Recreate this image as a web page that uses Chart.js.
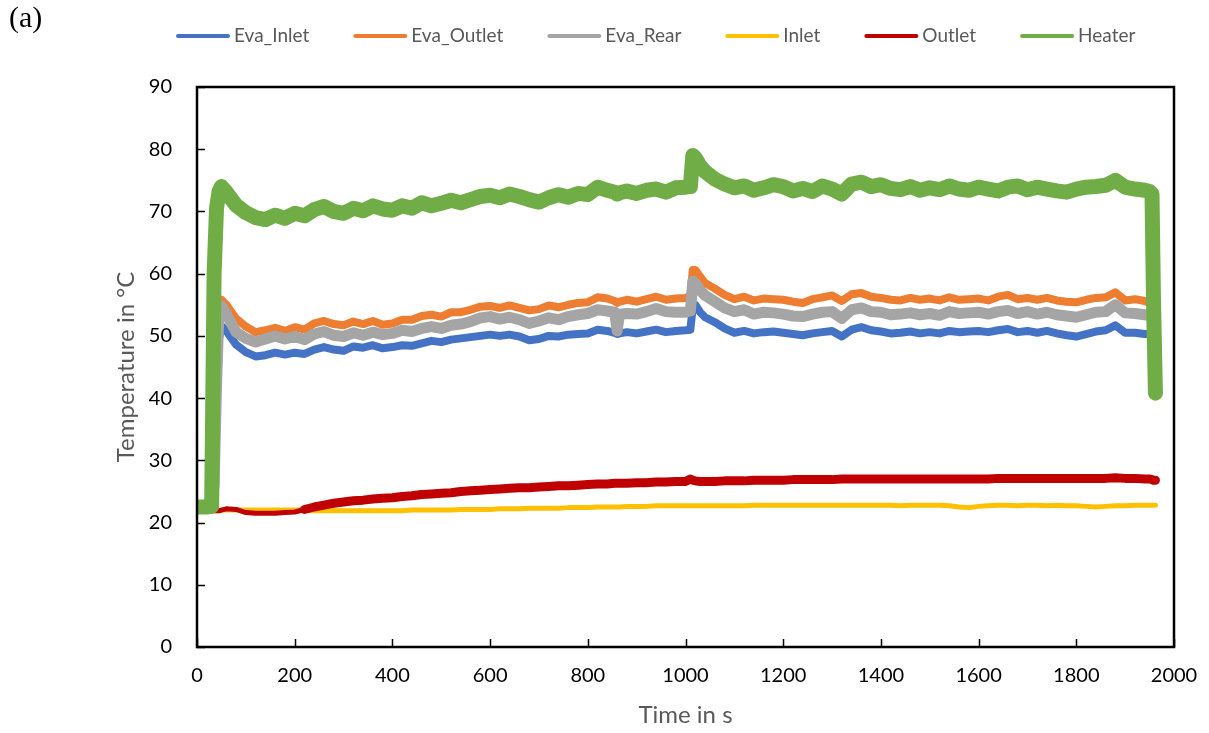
<!DOCTYPE html>
<html>
<head>
<meta charset="utf-8">
<script src="https://cdn.jsdelivr.net/npm/chart.js@4.4.1/dist/chart.umd.min.js"></script>
<style>
  body { margin: 0; background: #fff; }
  #wrap { position: relative; width: 1209px; height: 733px; }
  #tag { position: absolute; left: 9px; top: 0px; font: 30px "Liberation Serif", serif; color: #000; }
</style>
</head>
<body>
<div id="wrap">
  <canvas id="chartTemp" width="1209" height="733"></canvas>
  <div id="tag">(a)</div>
</div>
<script>
// time in s
const times = [
  0, 20, 30, 35, 40, 45, 50, 60,
  80, 100, 120, 140, 160, 180, 200, 220, 240, 260, 280, 300,
  320, 340, 360, 380, 400, 420, 440, 460, 480, 500, 520, 540,
  560, 580, 600, 620, 640, 660, 680, 700, 720, 740, 760, 780,
  800, 820, 840, 855, 860, 865, 880, 900, 920, 940, 960, 980, 1000,
  1010, 1015, 1020, 1030,
  1040, 1060, 1080, 1100, 1120, 1140, 1160, 1180, 1200, 1220, 1240, 1260,
  1280, 1300, 1320, 1340, 1360, 1380, 1400, 1420, 1440, 1460, 1480, 1500,
  1520, 1540, 1560, 1580, 1600, 1620, 1640, 1660, 1680, 1700, 1720, 1740,
  1760, 1780, 1800, 1820, 1840, 1860, 1880, 1900, 1920, 1940,
  1950, 1955, 1958, 1962
];

const evaInlet = [
  22.5, 22.5, 22.5, 25.0, 40.0, 49.5, 51.6, 50.8,
  48.6, 47.4, 46.7, 46.9, 47.3, 47.0, 47.3, 47.1, 47.8, 48.2, 47.8, 47.6,
  48.3, 48.1, 48.5, 48.0, 48.2, 48.5, 48.4, 48.8, 49.2, 49.0, 49.4, 49.6,
  49.8, 50.0, 50.2, 50.0, 50.2, 49.9, 49.3, 49.5, 50.0, 49.9, 50.2, 50.3,
  50.4, 51.0, 50.8, 50.5, 50.3, 50.4, 50.6, 50.4, 50.7, 51.0, 50.6, 50.8, 50.9,
  51.0, 54.8, 55.0, 53.8,
  53.0, 52.2, 51.2, 50.5, 50.8, 50.4, 50.6, 50.7, 50.5, 50.3, 50.1, 50.4,
  50.6, 50.8, 49.9, 51.0, 51.4, 50.9, 50.7, 50.4, 50.5, 50.7, 50.4, 50.6,
  50.4, 50.8, 50.6, 50.7, 50.8, 50.6, 50.9, 51.1, 50.6, 50.8, 50.5, 50.8,
  50.4, 50.1, 49.9, 50.3, 50.7, 50.9, 51.7, 50.5, 50.5, 50.3,
  50.3, 50.2, 47.0, 44.0
];

const evaOutlet = [
  22.5, 22.5, 22.5, 24.0, 38.0, 51.5, 55.8, 55.0,
  52.8, 51.5, 50.6, 50.9, 51.3, 50.8, 51.4, 51.0, 52.0, 52.4, 51.9, 51.7,
  52.3, 51.9, 52.4, 51.8, 52.0, 52.6, 52.6, 53.2, 53.4, 53.1, 53.8, 53.8,
  54.2, 54.7, 54.8, 54.5, 54.9, 54.5, 54.1, 54.3, 54.9, 54.6, 55.0, 55.3,
  55.4, 56.2, 56.0, 55.6, 55.3, 55.5, 55.8, 55.5, 55.9, 56.3, 55.8, 56.0, 56.1,
  56.4, 60.6, 60.6, 59.5,
  58.5, 57.6, 56.6, 55.9, 56.3, 55.7, 56.0, 55.9, 55.8, 55.5, 55.3, 55.9,
  56.2, 56.5, 55.6, 56.7, 56.9, 56.3, 56.1, 55.8, 55.7, 56.1, 55.8, 56.0,
  55.7, 56.2, 55.8, 55.9, 56.0, 55.7, 56.3, 56.6, 55.9, 56.1, 55.8, 56.1,
  55.7, 55.5, 55.4, 55.8, 56.1, 56.2, 57.0, 55.7, 55.9, 55.6,
  55.3, 55.1, 51.0, 46.4
];

const evaRear = [
  22.5, 22.5, 22.5, 26.0, 42.0, 54.0, 54.8, 53.5,
  50.6, 49.6, 49.0, 49.5, 50.0, 49.5, 49.9, 49.4, 50.3, 50.7, 50.1, 49.9,
  50.5, 50.1, 50.6, 50.2, 50.4, 50.9, 50.7, 51.2, 51.5, 51.2, 51.7, 51.9,
  52.3, 52.9, 53.1, 52.7, 53.0, 52.6, 52.0, 52.4, 52.9, 52.6, 53.1, 53.4,
  53.6, 54.2, 54.0, 53.8, 50.8, 53.5, 53.6, 53.5, 53.9, 54.4, 53.9, 53.8, 53.8,
  54.0, 58.8, 58.5, 57.3,
  56.5, 55.5, 54.5, 53.9, 54.2, 53.5, 53.8, 53.7, 53.5, 53.2, 53.1, 53.5,
  53.8, 53.9, 52.8, 54.2, 54.5, 53.9, 53.8, 53.4, 53.5, 53.7, 53.4, 53.6,
  53.3, 53.9, 53.6, 53.7, 53.8, 53.5, 53.9, 54.1, 53.6, 53.9, 53.5, 53.8,
  53.4, 53.2, 53.0, 53.4, 53.8, 53.9, 55.0, 53.7, 53.6, 53.4,
  53.2, 53.1, 48.0, 40.6
];

const inlet = [
  21.9, 21.9, 21.9, 21.9, 21.9, 21.9, 22.0, 22.0,
  22.0, 22.0, 22.0, 22.0, 22.0, 22.0, 22.0, 22.0, 21.9, 21.9, 21.9, 21.9,
  21.9, 21.9, 21.9, 21.9, 21.9, 21.9, 22.0, 22.0, 22.0, 22.0, 22.0, 22.1,
  22.1, 22.1, 22.1, 22.2, 22.2, 22.2, 22.3, 22.3, 22.3, 22.3, 22.4, 22.4,
  22.4, 22.5, 22.5, 22.5, 22.5, 22.5, 22.6, 22.6, 22.6, 22.7, 22.7, 22.7, 22.7,
  22.7, 22.7, 22.7, 22.7,
  22.7, 22.7, 22.7, 22.7, 22.7, 22.8, 22.8, 22.8, 22.8, 22.8, 22.8, 22.8,
  22.8, 22.8, 22.8, 22.8, 22.8, 22.8, 22.8, 22.8, 22.7, 22.8, 22.8, 22.8,
  22.8, 22.7, 22.5, 22.4, 22.6, 22.7, 22.8, 22.8, 22.7, 22.8, 22.8, 22.7,
  22.8, 22.7, 22.7, 22.6, 22.5, 22.6, 22.7, 22.7, 22.8, 22.8,
  22.8, 22.8, 22.8, 22.8
];

const outlet = [
  21.9, 21.9, 21.9, 21.9, 21.9, 21.9, 22.0, 22.2,
  22.1, 21.6, 21.5, 21.5, 21.5, 21.6, 21.7, 22.1, 22.5, 22.8, 23.1, 23.3,
  23.5, 23.6, 23.8, 23.9, 24.0, 24.2, 24.3, 24.5, 24.6, 24.7, 24.8, 25.0,
  25.1, 25.2, 25.3, 25.4, 25.5, 25.6, 25.6, 25.7, 25.8, 25.9, 25.9, 26.0,
  26.1, 26.2, 26.2, 26.3, 26.3, 26.3, 26.3, 26.4, 26.4, 26.5, 26.5, 26.6, 26.6,
  27.0, 26.8, 26.7, 26.6,
  26.6, 26.6, 26.7, 26.7, 26.7, 26.8, 26.8, 26.8, 26.8, 26.9, 26.9, 26.9,
  26.9, 26.9, 27.0, 27.0, 27.0, 27.0, 27.0, 27.0, 27.0, 27.0, 27.0, 27.0,
  27.0, 27.0, 27.0, 27.0, 27.0, 27.0, 27.1, 27.1, 27.1, 27.1, 27.1, 27.1,
  27.1, 27.1, 27.1, 27.1, 27.1, 27.1, 27.2, 27.1, 27.1, 27.0,
  27.0, 26.9, 26.8, 26.8
];

const heater = [
  22.5, 22.5, 22.6, 60.0, 70.5, 73.2, 74.0, 73.1,
  71.0, 69.8, 69.0, 68.7, 69.4, 68.9, 69.7, 69.3, 70.3, 70.8, 70.0, 69.7,
  70.5, 70.1, 70.9, 70.4, 70.2, 70.9, 70.5, 71.4, 70.9, 71.3, 71.8, 71.4,
  71.9, 72.4, 72.6, 72.2, 72.8, 72.4, 71.9, 71.5, 72.2, 72.7, 72.3, 72.9,
  72.7, 73.9, 73.4, 73.1, 72.8, 73.0, 73.3, 72.9, 73.4, 73.6, 73.1, 73.8, 73.9,
  74.0, 79.0, 78.6, 77.3,
  76.4, 75.2, 74.4, 73.8, 74.1, 73.4, 73.8, 74.3, 74.0, 73.3, 73.7, 73.2,
  74.1, 73.6, 72.8, 74.4, 74.7, 74.0, 74.3, 73.7, 73.5, 74.0, 73.4, 73.8,
  73.5, 74.1, 73.6, 73.4, 73.9, 73.6, 73.3, 73.9, 74.1, 73.5, 73.9, 73.6,
  73.3, 73.1, 73.6, 73.9, 74.0, 74.2, 75.0, 73.9, 73.6, 73.4,
  73.2, 72.8, 56.0, 40.8
];

const seriesNames = ['Eva_Inlet', 'Eva_Outlet', 'Eva_Rear', 'Inlet', 'Outlet', 'Heater'];
const seriesValues = [evaInlet, evaOutlet, evaRear, inlet, outlet, heater];
const seriesColors = ['#4472C4', '#ED7D31', '#A5A5A5', '#FFC000', '#C00000', '#70AD47'];
const lineWidths = [8, 8, 11, 5, 9, 15];
// excel draws later series on top
const drawOrder = [5, 4, 3, 2, 1, 0];

const xTicks = [0, 200, 400, 600, 800, 1000, 1200, 1400, 1600, 1800, 2000];
const yTicks = [0, 10, 20, 30, 40, 50, 60, 70, 80, 90];

let datasets = seriesNames.map((name, i) => ({
  label: name,
  data: times.map((t, k) => ({ x: t, y: seriesValues[i][k] })),
  borderColor: seriesColors[i],
  backgroundColor: seriesColors[i],
  borderWidth: lineWidths[i],
  order: drawOrder[i],
  pointRadius: 0,
  tension: 0
}));

// outlet trace is thin before it starts to warm up
datasets[4].segment = { borderWidth: c => (c.p1.parsed.x <= 220 ? 5 : 9) };

// frame round the plot area plus the inside tick marks
const frameAndTicks = {
  id: 'frameAndTicks',
  afterDatasetsDraw(chart) {
    const { ctx, chartArea: a, scales: { x, y } } = chart;
    ctx.save();
    ctx.strokeStyle = '#000';
    ctx.lineWidth = 1.5;
    yTicks.forEach(v => {
      const py = Math.round(y.getPixelForValue(v)) + 0.5;
      ctx.beginPath(); ctx.moveTo(a.left, py); ctx.lineTo(a.left + 8, py); ctx.stroke();
    });
    xTicks.forEach(v => {
      const px = Math.round(x.getPixelForValue(v)) + 0.5;
      ctx.beginPath(); ctx.moveTo(px, a.bottom); ctx.lineTo(px, a.bottom - 8); ctx.stroke();
    });
    ctx.lineWidth = 2.5;
    ctx.strokeRect(a.left, a.top, a.right - a.left, a.bottom - a.top);
    ctx.restore();
  }
};

// legend row at the top, excel style
const topLegend = {
  id: 'topLegend',
  afterDraw(chart) {
    const ctx = chart.ctx;
    ctx.save();
    ctx.font = '19px Lato';
    ctx.textBaseline = 'middle';
    ctx.lineWidth = 4;
    ctx.lineCap = 'round';
    let x = 176;
    const y = 36;
    chart.data.datasets.forEach(ds => {
      ctx.strokeStyle = ds.borderColor;
      ctx.beginPath(); ctx.moveTo(x + 2, y); ctx.lineTo(x + 52, y); ctx.stroke();
      ctx.fillStyle = '#595959';
      ctx.fillText(ds.label, x + 58, y);
      x += 58 + ctx.measureText(ds.label).width + 44;
    });
    ctx.restore();
  }
};

let config = {
  type: 'line',
  data: { datasets: datasets },
  options: {
    responsive: false,
    animation: false,
    devicePixelRatio: 1,
    layout: { padding: { top: 87, right: 35, left: 0, bottom: 0 } },
    plugins: {
      legend: { display: false },
      tooltip: { enabled: false }
    },
    elements: { line: { borderJoinStyle: 'round', borderCapStyle: 'round' } },
    scales: {
      x: {
        type: 'linear',
        min: 0,
        max: 2000,
        afterBuildTicks: s => { s.ticks = xTicks.map(v => ({ value: v })); },
        ticks: { padding: 9, color: '#000', font: { family: 'Lato', size: 20 }, maxRotation: 0, callback: v => String(v) },
        grid: { display: false },
        border: { display: false },
        title: { display: true, text: 'Time in s', color: '#595959', font: { family: 'Lato', size: 24 }, padding: { top: 0, bottom: 3 } },
        afterFit: s => { s.height = 86; }
      },
      y: {
        min: 0,
        max: 90,
        afterBuildTicks: s => { s.ticks = yTicks.map(v => ({ value: v })); },
        ticks: { padding: 17, color: '#000', font: { family: 'Lato', size: 20 }, callback: v => String(v) },
        grid: { display: false },
        border: { display: false },
        title: { display: true, text: 'Temperature in °C', color: '#595959', font: { family: 'Lato', size: 24 }, padding: { top: 112, bottom: 0 } },
        afterFit: s => { s.width = 197; }
      }
    }
  },
  plugins: [frameAndTicks, topLegend]
};

let chartTemp = new Chart(document.querySelector('#chartTemp').getContext('2d'), config);
</script>
</body>
</html>
